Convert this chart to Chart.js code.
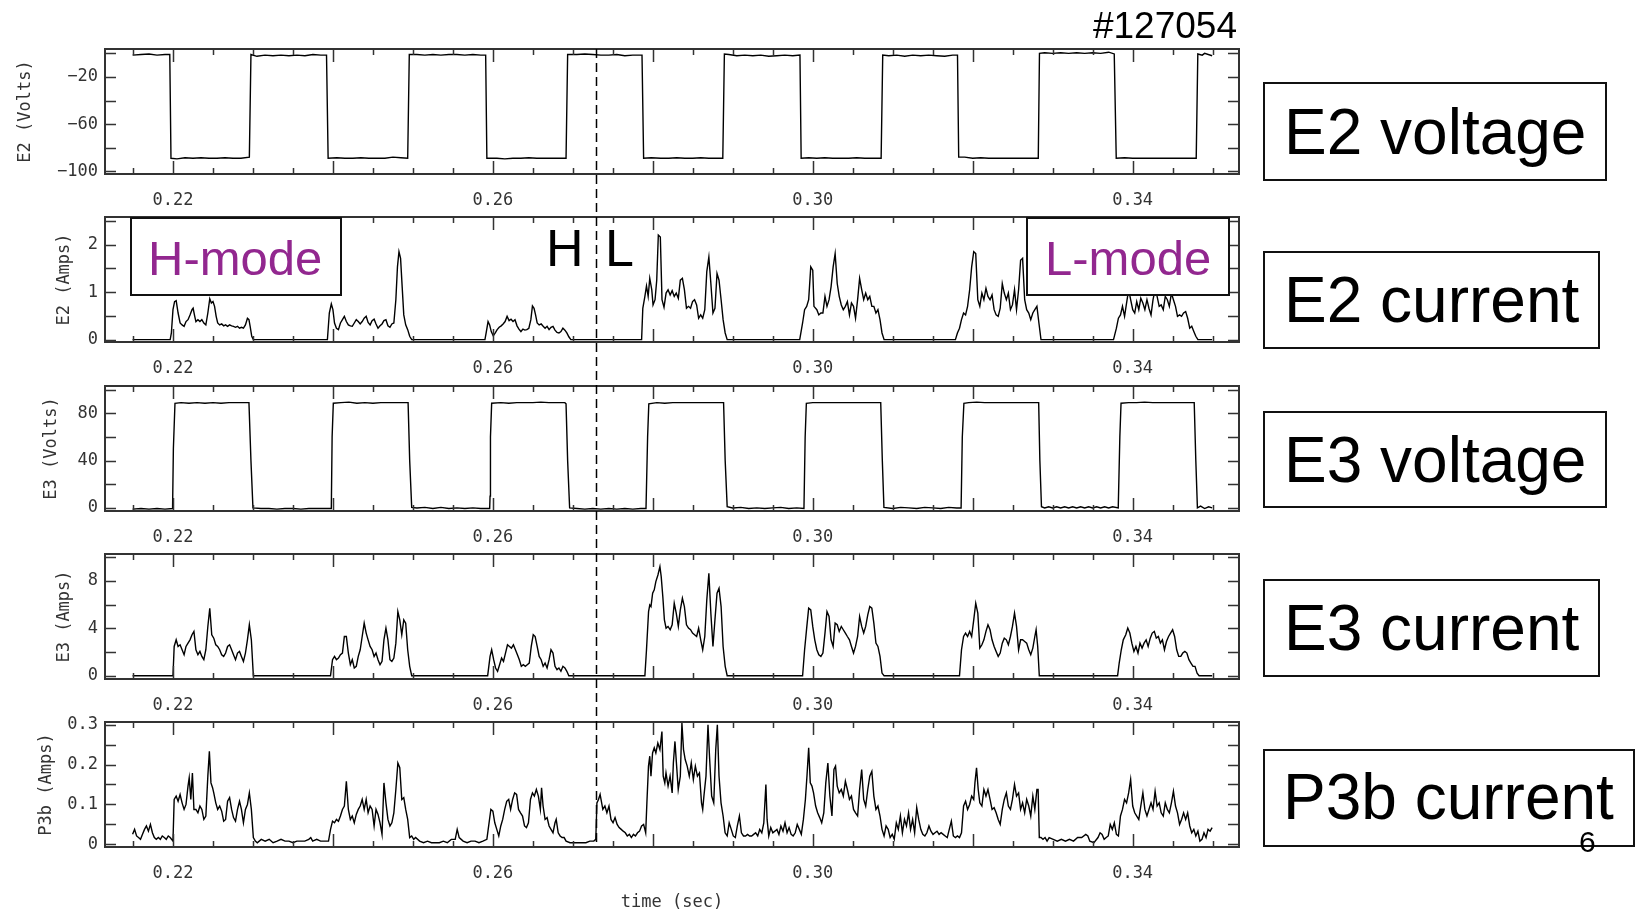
<!DOCTYPE html>
<html><head><meta charset="utf-8">
<script src="https://cdn.jsdelivr.net/npm/chart.js@4.4.0/dist/chart.umd.min.js"></script>
<style>
html,body{margin:0;padding:0;background:#fff;}
body{width:1637px;height:914px;position:relative;overflow:hidden;font-family:"Liberation Sans",Arial,sans-serif;}
canvas.panel{position:absolute;left:0;z-index:1;}
#overlay{position:absolute;left:0;top:0;z-index:2;pointer-events:none;}
.box{position:absolute;box-sizing:border-box;border:2px solid #111;background:#fff;z-index:3;}
.txt{position:absolute;white-space:nowrap;z-index:4;color:#000;}
</style></head>
<body>
<canvas id="c1" class="panel"></canvas>
<canvas id="c2" class="panel"></canvas>
<canvas id="c3" class="panel"></canvas>
<canvas id="c4" class="panel"></canvas>
<canvas id="c5" class="panel"></canvas>
<canvas id="overlay" width="1637" height="914"></canvas>

<div class="txt" style="right:400px;top:7px;font-size:37px;line-height:37px;">#127054</div>

<div class="box" style="left:130px;top:217px;width:212px;height:79px;"></div>
<div class="txt" style="left:148px;top:234px;font-size:49px;line-height:49px;color:#92278f;">H-mode</div>
<div class="box" style="left:1026px;top:217px;width:204px;height:79px;"></div>
<div class="txt" style="left:1045px;top:234px;font-size:49px;line-height:49px;color:#92278f;">L-mode</div>
<div class="txt" style="left:546px;top:222px;font-size:52px;line-height:52px;">H</div>
<div class="txt" style="left:605px;top:222px;font-size:52px;line-height:52px;">L</div>

<div class="box" style="left:1263px;top:82px;width:344px;height:99px;"></div>
<div class="txt" style="left:1284px;top:100px;font-size:64px;line-height:64px;">E2 voltage</div>
<div class="box" style="left:1263px;top:251px;width:337px;height:98px;"></div>
<div class="txt" style="left:1284px;top:268px;font-size:64px;line-height:64px;">E2 current</div>
<div class="box" style="left:1263px;top:411px;width:344px;height:97px;"></div>
<div class="txt" style="left:1284px;top:428px;font-size:64px;line-height:64px;">E3 voltage</div>
<div class="box" style="left:1263px;top:579px;width:337px;height:98px;"></div>
<div class="txt" style="left:1284px;top:596px;font-size:64px;line-height:64px;">E3 current</div>
<div class="box" style="left:1263px;top:749px;width:372px;height:98px;"></div>
<div class="txt" style="left:1283px;top:765px;font-size:64px;line-height:64px;">P3b current</div>
<div class="txt" style="left:1579px;top:827px;font-size:30px;line-height:30px;">6</div>

<script>
// ---- axis ranges and ticks ----
const timeRange = [0.2115, 0.3533];
const hlTime = 0.2729;
const xTickMinor = [0.215,0.22,0.225,0.23,0.235,0.24,0.245,0.25,0.255,0.26,0.265,0.27,0.275,0.28,0.285,0.29,0.295,0.30,0.305,0.31,0.315,0.32,0.325,0.33,0.335,0.34,0.345,0.35];
const xTickMajor = [0.22,0.24,0.26,0.28,0.30,0.32,0.34];
const xTickLabels = [0.22,0.26,0.30,0.34];

const e2vRange = [-102.3, 3.7], e2vTicks = [0,-20,-40,-60,-80,-100], e2vLabels = [-20,-60,-100];
const e2iRange = [-0.05, 2.58], e2iTicks = [0,0.5,1,1.5,2,2.5], e2iLabels = [0,1,2];
const e3vRange = [-2.6, 103.1], e3vTicks = [0,20,40,60,80,100], e3vLabels = [0,40,80];
const e3iRange = [-0.28, 10.28], e3iTicks = [0,2,4,6,8,10], e3iLabels = [0,4,8];
const p3bRange = [-0.0067, 0.3067], p3bTicks = [0,0.05,0.1,0.15,0.2,0.25,0.3], p3bLabels = [0,0.1,0.2,0.3];

// ---- series: [time (sec), value] ----
const e2Voltage = [[0.21495,-1.5],[0.216,-1],[0.217,-0.5],[0.218,-1.5],[0.219,-1],[0.2196,-1],[0.21975,-89],[0.2205,-89.5],[0.2215,-88.5],[0.2225,-89],[0.2235,-88.5],[0.2245,-89],[0.2255,-89],[0.2265,-88.5],[0.2275,-89],[0.2285,-89],[0.22955,-88],[0.22975,-1],[0.2305,-2.5],[0.2315,-1.5],[0.2325,-2],[0.2335,-1.5],[0.2345,-2],[0.2355,-1.5],[0.2365,-2],[0.2375,-1],[0.2385,-1.5],[0.2392,-1.5],[0.2394,-89],[0.2405,-88.5],[0.2415,-89],[0.2425,-89],[0.2435,-88.5],[0.2445,-89],[0.2455,-89],[0.2465,-89],[0.2475,-88],[0.2485,-88.5],[0.24935,-89],[0.24955,-1],[0.2505,-1],[0.2515,-1.5],[0.2525,-1],[0.2535,-1.5],[0.2545,-1],[0.2555,-1],[0.2565,-1.5],[0.2575,-1],[0.2585,-1.5],[0.2591,-1.5],[0.25925,-89],[0.2605,-89],[0.2615,-89.5],[0.2625,-89],[0.2635,-89],[0.2645,-88.5],[0.2655,-89],[0.2665,-89],[0.2675,-89],[0.2685,-89],[0.26915,-89],[0.26935,-1],[0.2705,-1],[0.2715,-0.5],[0.2725,-1],[0.2735,-1.5],[0.2745,-1.5],[0.2755,-1],[0.2765,-2],[0.2775,-1.5],[0.27865,-1.5],[0.27885,-89],[0.2798,-88.5],[0.281,-89],[0.282,-89],[0.283,-88.5],[0.284,-89],[0.285,-89],[0.286,-88.5],[0.287,-89],[0.28875,-89],[0.28895,-0.5],[0.2895,-1],[0.2905,-2],[0.2915,-1.5],[0.2925,-2],[0.2935,-1.5],[0.2945,-2.5],[0.2955,-2],[0.2965,-1.5],[0.2975,-2],[0.2984,-1.5],[0.29855,-89],[0.2995,-88.5],[0.3005,-89],[0.3015,-88.5],[0.3025,-89],[0.3035,-89],[0.3045,-89],[0.3055,-88.5],[0.3065,-89],[0.30855,-89],[0.30875,-1.5],[0.3095,-2],[0.3105,-1.5],[0.3115,-2.5],[0.3125,-1.5],[0.3135,-2],[0.3145,-1.5],[0.3155,-2],[0.3165,-2.5],[0.3175,-1.5],[0.3181,-1.5],[0.31825,-88],[0.319,-88],[0.32,-89],[0.321,-88.5],[0.322,-89],[0.323,-89],[0.324,-89],[0.325,-89],[0.326,-89],[0.327,-89],[0.3282,-89],[0.32835,0],[0.329,0.5],[0.33,0],[0.331,0.5],[0.332,0],[0.333,0.5],[0.334,0],[0.335,0.5],[0.336,0],[0.337,1],[0.3377,-0.5],[0.33795,-89],[0.339,-88.5],[0.34,-89],[0.341,-89],[0.342,-89],[0.343,-89],[0.344,-89],[0.345,-89],[0.346,-89],[0.347,-89],[0.34795,-89],[0.34815,-0.5],[0.3487,-1.5],[0.349,0],[0.34994,-2]];

const e2Current = [[0.21495,0],[0.21965,0],[0.2198,0.14],[0.22,0.63],[0.2202,0.8],[0.2204,0.82],[0.22064,0.56],[0.22089,0.35],[0.22114,0.31],[0.22139,0.28],[0.22163,0.38],[0.22188,0.42],[0.22213,0.52],[0.22238,0.63],[0.22252,0.66],[0.22272,0.49],[0.22287,0.38],[0.22312,0.42],[0.22337,0.38],[0.22361,0.42],[0.22386,0.35],[0.22411,0.31],[0.22436,0.56],[0.2246,0.86],[0.2248,0.77],[0.225,0.8],[0.2252,0.7],[0.2254,0.49],[0.22559,0.35],[0.22584,0.31],[0.22609,0.33],[0.22634,0.29],[0.22658,0.31],[0.22683,0.28],[0.22708,0.31],[0.22733,0.29],[0.22757,0.28],[0.22782,0.26],[0.22807,0.28],[0.22832,0.24],[0.22856,0.26],[0.22881,0.24],[0.22906,0.31],[0.22931,0.45],[0.2295,0.42],[0.22965,0.28],[0.22985,0.07],[0.23005,0],
[0.23931,0],[0.23955,0.56],[0.2398,0.75],[0.24,0.63],[0.2402,0.35],[0.24044,0.24],[0.24069,0.21],[0.24094,0.35],[0.24119,0.42],[0.24143,0.49],[0.24168,0.38],[0.24193,0.31],[0.24218,0.29],[0.24242,0.28],[0.24267,0.35],[0.24292,0.42],[0.24317,0.38],[0.24341,0.33],[0.24366,0.38],[0.24391,0.45],[0.24416,0.49],[0.2444,0.36],[0.24465,0.31],[0.2449,0.4],[0.24515,0.43],[0.24539,0.33],[0.24564,0.24],[0.24589,0.29],[0.24614,0.33],[0.24638,0.4],[0.24663,0.42],[0.24688,0.29],[0.24713,0.26],[0.24737,0.33],[0.24762,0.35],[0.24787,0.84],[0.24807,1.53],[0.24826,1.85],[0.24846,1.71],[0.24866,1.11],[0.24886,0.52],[0.2491,0.31],[0.24935,0.21],[0.2496,0.07],[0.24985,0],
[0.25901,0],[0.25916,0.14],[0.2594,0.38],[0.2596,0.31],[0.2598,0.17],[0.26005,0.08],[0.2603,0.14],[0.26054,0.21],[0.26079,0.26],[0.26104,0.29],[0.26128,0.33],[0.26153,0.38],[0.26178,0.49],[0.26203,0.4],[0.26227,0.43],[0.26252,0.38],[0.26277,0.42],[0.26302,0.29],[0.26326,0.22],[0.26351,0.17],[0.26376,0.22],[0.264,0.2],[0.26425,0.21],[0.2645,0.24],[0.26475,0.42],[0.26495,0.71],[0.26515,0.66],[0.26534,0.52],[0.26554,0.35],[0.26579,0.31],[0.26604,0.33],[0.26629,0.28],[0.26653,0.24],[0.26678,0.28],[0.26703,0.21],[0.26727,0.26],[0.26752,0.28],[0.26777,0.2],[0.26802,0.15],[0.26826,0.14],[0.26851,0.17],[0.26876,0.24],[0.26901,0.2],[0.26925,0.14],[0.2695,0.06],[0.26975,0],
[0.2786,0],[0.27875,0.66],[0.27901,0.91],[0.27921,1.13],[0.27942,0.91],[0.27962,1.29],[0.27987,1.05],[0.28003,0.73],[0.28028,0.84],[0.28049,1.25],[0.28069,2.2],[0.28094,2.16],[0.28115,0.84],[0.2814,0.68],[0.28166,0.98],[0.28191,1.05],[0.28217,0.94],[0.28242,1.03],[0.28268,0.91],[0.28293,0.98],[0.28319,0.87],[0.28344,1.25],[0.2837,1.29],[0.28395,1.05],[0.28421,0.66],[0.28446,0.7],[0.28472,0.66],[0.28497,0.8],[0.28522,0.84],[0.28548,0.73],[0.28573,0.45],[0.28599,0.52],[0.28624,0.45],[0.2865,0.63],[0.28675,1.43],[0.28701,1.74],[0.28726,1.18],[0.28752,0.56],[0.28777,0.66],[0.28803,1.39],[0.28828,1.25],[0.28854,0.84],[0.28879,0.42],[0.28905,0.14],[0.2893,0],
[0.29837,0],[0.29873,0.35],[0.29898,0.63],[0.29924,0.7],[0.29949,0.84],[0.29975,1.53],[0.3,1.46],[0.30015,0.7],[0.30051,0.63],[0.30076,0.52],[0.30102,0.56],[0.30127,0.56],[0.30153,0.91],[0.30178,0.7],[0.30204,0.84],[0.30229,1.11],[0.30255,1.53],[0.3028,1.81],[0.30306,1.18],[0.30331,0.91],[0.30357,0.73],[0.30382,0.63],[0.30408,0.7],[0.30433,0.8],[0.30459,0.52],[0.30484,0.77],[0.3051,0.7],[0.30535,0.45],[0.30561,0.84],[0.30586,1.29],[0.30612,1.05],[0.30637,0.84],[0.30662,0.98],[0.30688,0.84],[0.30713,0.91],[0.30739,0.7],[0.30764,0.7],[0.3079,0.56],[0.30815,0.63],[0.30841,0.42],[0.30866,0.14],[0.30892,0],
[0.31784,0],[0.31809,0.14],[0.31835,0.24],[0.3186,0.42],[0.31886,0.56],[0.31911,0.52],[0.31936,0.7],[0.31962,1.05],[0.31987,1.53],[0.32013,1.85],[0.32038,1.81],[0.32064,0.84],[0.32089,0.7],[0.32115,0.98],[0.3214,0.84],[0.32166,1.08],[0.32191,0.91],[0.32217,0.84],[0.32242,0.94],[0.32268,0.63],[0.32293,0.52],[0.32319,0.49],[0.32344,0.66],[0.3237,1.18],[0.32395,0.98],[0.32421,0.84],[0.32446,0.98],[0.32472,0.63],[0.32497,0.73],[0.32523,1.05],[0.32548,0.63],[0.32574,1.05],[0.32599,1.67],[0.32624,1.71],[0.3265,0.84],[0.32675,0.63],[0.32701,0.56],[0.32726,0.42],[0.32752,0.56],[0.32777,0.63],[0.32803,0.7],[0.32828,0.35],[0.32854,0],
[0.33761,0],[0.33797,0.24],[0.33822,0.45],[0.33848,0.52],[0.33873,0.7],[0.33899,0.49],[0.33924,0.77],[0.3395,1.05],[0.33975,0.84],[0.34001,0.63],[0.34026,0.56],[0.34051,0.8],[0.34077,0.63],[0.34102,0.87],[0.34128,0.77],[0.34153,0.63],[0.34179,0.84],[0.34204,0.66],[0.3423,0.52],[0.34255,0.84],[0.34281,1.05],[0.34306,0.91],[0.34332,0.7],[0.34357,0.73],[0.34383,0.63],[0.34408,0.91],[0.34434,0.84],[0.34459,0.7],[0.34485,0.98],[0.3451,0.84],[0.34536,0.7],[0.34561,0.49],[0.34587,0.52],[0.34612,0.49],[0.34637,0.56],[0.34663,0.59],[0.34688,0.45],[0.34714,0.24],[0.34739,0.28],[0.34765,0.17],[0.3479,0.07],[0.34816,0],[0.34994,0]];

const e3Voltage = [[0.21495,-1],[0.216,-0.5],[0.217,-1],[0.218,-0.5],[0.219,-1],[0.21995,-0.5],[0.22005,50],[0.22025,88.5],[0.221,89],[0.222,88.5],[0.223,89],[0.224,88.5],[0.225,89],[0.226,88.5],[0.227,89],[0.228,89],[0.229,89],[0.2295,89],[0.22975,40],[0.23,0],[0.231,-0.5],[0.232,-0.5],[0.233,-1],[0.234,-0.5],[0.235,-0.5],[0.236,-1],[0.237,-0.5],[0.238,-0.5],[0.239,-0.5],[0.2398,-0.5],[0.2399,60],[0.24005,88.5],[0.241,89],[0.242,89.5],[0.243,88.5],[0.244,89],[0.245,88.5],[0.246,89],[0.247,89],[0.248,89],[0.249,89],[0.2494,89],[0.2496,40],[0.24985,0.5],[0.2505,0],[0.2515,0.5],[0.2525,-0.5],[0.2535,0.5],[0.2545,-0.5],[0.2555,0],[0.2565,-0.5],[0.2575,0],[0.2585,-0.5],[0.2596,-0.5],[0.25965,10],[0.2597,60],[0.25985,88.5],[0.261,89],[0.262,88.5],[0.263,89],[0.264,89],[0.265,89],[0.266,89.5],[0.267,89],[0.268,89],[0.269,89],[0.26915,88],[0.26935,40],[0.2696,0],[0.2705,-0.5],[0.2715,-1],[0.2725,-0.5],[0.2735,-1],[0.2745,-0.5],[0.2755,-1],[0.2765,-0.5],[0.2775,-1],[0.2785,-0.5],[0.27915,-0.5],[0.27935,60],[0.2795,88],[0.2805,89],[0.2815,88.5],[0.2825,89],[0.2835,89],[0.2845,89],[0.2855,89],[0.2865,89],[0.2875,89],[0.28885,89],[0.28905,40],[0.2893,1],[0.29,0],[0.291,0.5],[0.292,-0.5],[0.293,0],[0.294,-0.5],[0.295,0],[0.296,0.5],[0.297,-0.5],[0.298,0],[0.2989,-0.5],[0.29905,60],[0.2992,88.5],[0.3,89],[0.301,89],[0.302,89],[0.303,89],[0.304,89],[0.305,89],[0.306,89],[0.307,89],[0.3085,89],[0.3087,40],[0.3089,0.5],[0.31,-0.5],[0.311,0.5],[0.312,0],[0.313,-0.5],[0.314,0.5],[0.315,0],[0.316,-0.5],[0.317,0.5],[0.318,0],[0.31855,0],[0.3187,60],[0.3189,88.5],[0.3195,89],[0.3205,89.5],[0.3215,89],[0.3225,89],[0.3235,89],[0.3245,89],[0.3255,89],[0.3265,89],[0.3275,89],[0.32825,89],[0.3284,40],[0.3286,1],[0.329,0],[0.3295,1],[0.33,0],[0.3305,1],[0.331,0],[0.3315,1],[0.332,0],[0.3325,1],[0.333,0],[0.3335,1],[0.334,0],[0.3345,1],[0.335,0],[0.3355,1],[0.336,0],[0.3365,1],[0.337,0],[0.3375,1],[0.3382,0],[0.3384,60],[0.33855,88.5],[0.3395,89],[0.3405,89],[0.3415,89.5],[0.3425,89],[0.3435,89],[0.3445,89],[0.3455,89],[0.3465,89],[0.3477,89],[0.3479,40],[0.3481,0],[0.3485,1.5],[0.349,-0.5],[0.3495,1],[0.34994,0]];

const e3Current = [[0.21495,0],[0.22,0],[0.22015,2.47],[0.2204,3.03],[0.22064,2.47],[0.22089,2.61],[0.22114,2.19],[0.22139,1.77],[0.22163,2.47],[0.22188,2.75],[0.22213,3.03],[0.22238,3.46],[0.22262,3.74],[0.22287,2.19],[0.22312,1.77],[0.22337,2.05],[0.22361,1.63],[0.22386,1.35],[0.22411,2.19],[0.22436,4.16],[0.2246,5.7],[0.22485,3.46],[0.2251,3.17],[0.22535,2.61],[0.22559,2.47],[0.22584,2.19],[0.22609,1.77],[0.22634,1.63],[0.22658,1.91],[0.22683,2.47],[0.22708,2.61],[0.22733,2.19],[0.22757,1.77],[0.22782,1.35],[0.22807,1.91],[0.22832,2.05],[0.22856,1.63],[0.22881,1.21],[0.22906,1.91],[0.22931,3.03],[0.22955,4.3],[0.2298,3.03],[0.23005,0],
[0.2397,0],[0.23995,1.35],[0.2402,1.63],[0.24044,1.35],[0.24069,1.49],[0.24094,1.77],[0.24119,1.91],[0.24143,3.31],[0.24168,3.31],[0.24193,1.91],[0.24218,0.93],[0.24242,1.35],[0.24267,0.65],[0.24292,0.79],[0.24317,1.63],[0.24341,2.19],[0.24366,3.31],[0.24391,4.44],[0.24416,3.6],[0.2444,3.03],[0.24465,2.47],[0.2449,2.19],[0.24515,1.63],[0.24539,1.91],[0.24564,1.35],[0.24589,0.93],[0.24614,1.21],[0.24638,3.03],[0.24663,4.02],[0.24688,3.03],[0.24713,1.35],[0.24737,1.21],[0.24762,1.49],[0.24787,2.75],[0.24812,5.42],[0.24836,4.72],[0.24861,3.46],[0.24886,4.72],[0.2491,4.44],[0.24935,2.19],[0.2496,0.79],[0.24985,0],
[0.25935,0],[0.25965,1.63],[0.25985,2.19],[0.2601,1.35],[0.26034,0.65],[0.26059,0.37],[0.26084,0.93],[0.26109,1.49],[0.26133,1.21],[0.26158,1.91],[0.26183,2.61],[0.26208,2.47],[0.26232,2.33],[0.26257,2.61],[0.26282,2.19],[0.26307,1.77],[0.26331,1.35],[0.26356,0.79],[0.26381,0.93],[0.26406,0.79],[0.2643,0.93],[0.26455,1.07],[0.2648,2.47],[0.26505,3.46],[0.26529,3.31],[0.26554,2.47],[0.26579,1.63],[0.26604,1.35],[0.26629,0.79],[0.26653,1.07],[0.26678,0.65],[0.26703,1.35],[0.26727,2.19],[0.26752,1.91],[0.26777,0.79],[0.26802,0.51],[0.26826,0.65],[0.26851,0.37],[0.26876,0.79],[0.26901,0.65],[0.26925,0.37],[0.2695,0],
[0.27901,0],[0.27921,2.19],[0.27947,5.42],[0.27962,5.98],[0.27977,5.84],[0.27998,6.97],[0.28018,7.25],[0.28038,7.95],[0.28064,8.51],[0.28089,9.21],[0.28105,8.37],[0.28125,6.69],[0.28145,4.72],[0.28166,4.02],[0.28191,4.16],[0.28217,3.88],[0.28242,4.3],[0.28268,6.12],[0.28293,5.28],[0.28319,4.16],[0.28344,5.56],[0.2837,6.54],[0.28395,5.84],[0.28421,4.3],[0.28446,4.02],[0.28472,3.88],[0.28497,3.6],[0.28522,3.46],[0.28548,3.31],[0.28573,4.02],[0.28599,3.03],[0.28624,2.19],[0.2865,3.31],[0.28675,6.4],[0.28701,8.65],[0.28726,5.28],[0.28752,2.47],[0.28777,4.72],[0.28803,6.97],[0.28828,7.39],[0.28854,5.84],[0.28879,2.47],[0.28905,0.79],[0.2893,0],
[0.29873,0],[0.29898,2.19],[0.29924,4.02],[0.29949,5.7],[0.29975,5.56],[0.3,4.16],[0.30025,3.03],[0.30051,2.19],[0.30076,1.77],[0.30102,1.63],[0.30127,1.91],[0.30153,3.6],[0.30178,5.42],[0.30204,5],[0.30229,3.03],[0.30255,2.47],[0.3028,4.44],[0.30306,4.3],[0.30331,3.74],[0.30357,4.16],[0.30382,3.88],[0.30408,3.6],[0.30433,3.31],[0.30459,3.03],[0.30484,2.47],[0.3051,1.91],[0.30535,2.47],[0.30561,3.31],[0.30586,5],[0.30612,4.16],[0.30637,3.6],[0.30662,4.16],[0.30688,5.14],[0.30713,5.84],[0.30739,5.7],[0.30764,4.44],[0.3079,2.75],[0.30815,2.47],[0.30841,1.63],[0.30866,0.22],[0.30892,0],
[0.31835,0],[0.3186,2.19],[0.31886,3.31],[0.31911,3.6],[0.31936,3.31],[0.31962,3.74],[0.31987,3.31],[0.32013,4.72],[0.32038,6.12],[0.32064,5.28],[0.32089,2.33],[0.32115,2.61],[0.3214,3.03],[0.32166,3.74],[0.32191,4.3],[0.32217,3.88],[0.32242,3.03],[0.32268,2.47],[0.32293,2.05],[0.32319,1.63],[0.32344,1.91],[0.3237,2.75],[0.32395,3.17],[0.32421,3.03],[0.32446,2.61],[0.32472,3.31],[0.32497,4.16],[0.32523,5.28],[0.32548,4.16],[0.32574,2.19],[0.32599,3.03],[0.32624,3.03],[0.3265,2.89],[0.32675,2.75],[0.32701,2.19],[0.32726,1.77],[0.32752,2.33],[0.32777,3.31],[0.32793,3.88],[0.32813,2.47],[0.32833,0],
[0.33812,0],[0.33832,1.07],[0.33858,2.19],[0.33883,3.03],[0.33914,3.46],[0.33939,4.02],[0.33965,3.6],[0.3399,2.75],[0.34016,2.05],[0.34041,2.47],[0.34067,1.91],[0.34092,2.75],[0.34118,2.33],[0.34143,2.75],[0.34169,3.03],[0.34194,2.47],[0.3422,3.17],[0.34245,3.6],[0.34271,3.74],[0.34296,3.17],[0.34322,3.31],[0.34347,2.75],[0.34372,3.03],[0.34398,2.19],[0.34423,2.89],[0.34449,3.31],[0.34474,3.6],[0.345,3.88],[0.34525,3.31],[0.34551,2.19],[0.34576,1.63],[0.34602,1.63],[0.34627,1.91],[0.34653,2.05],[0.34678,1.91],[0.34704,1.35],[0.34729,1.07],[0.34755,0.79],[0.3478,0.79],[0.34806,0.22],[0.34831,0],[0.34994,0]];

const p3bCurrent = [[0.21495,0.025],[0.2152,0.0375],[0.21545,0.021],[0.21569,0.017],[0.21594,0.0125],[0.21619,0.025],[0.21644,0.0375],[0.21668,0.046],[0.21693,0.033],[0.21718,0.05],[0.21743,0.029],[0.21767,0.017],[0.21792,0.0125],[0.21817,0.017],[0.21842,0.0125],[0.21866,0.021],[0.21891,0.017],[0.21916,0.0125],[0.21941,0.021],[0.21965,0.017],[0.22,0.008],[0.22015,0.1125],[0.2204,0.121],[0.22064,0.108],[0.22089,0.125],[0.22114,0.104],[0.22139,0.0875],[0.22163,0.1],[0.22188,0.146],[0.22203,0.167],[0.22223,0.1125],[0.22243,0.179],[0.22262,0.0875],[0.22287,0.0875],[0.22312,0.079],[0.22337,0.096],[0.22361,0.0875],[0.22386,0.0625],[0.22411,0.071],[0.22436,0.171],[0.22455,0.233],[0.22475,0.154],[0.22495,0.142],[0.2251,0.129],[0.22535,0.104],[0.22559,0.0875],[0.22584,0.096],[0.22609,0.083],[0.22634,0.058],[0.22658,0.0625],[0.22683,0.108],[0.22708,0.117],[0.22733,0.0875],[0.22757,0.067],[0.22782,0.058],[0.22807,0.0875],[0.22832,0.108],[0.22856,0.0875],[0.22881,0.054],[0.22906,0.0875],[0.22931,0.1],[0.22955,0.129],[0.2298,0.0875],[0.23005,0.017],[0.2303,0.008],[0.23054,0.004],[0.23104,0.0125],[0.23153,0.008],[0.23203,0.0125],[0.23252,0.004],[0.23302,0.008],[0.23351,0.0125],[0.23401,0.008],[0.2345,0.008],[0.235,0.004],[0.23549,0.008],[0.23599,0.008],[0.23648,0.008],[0.23698,0.0125],[0.23723,0.017],[0.23747,0.008],[0.23797,0.0125],[0.23846,0.008],[0.23896,0.008],[0.23945,0.008],
[0.2397,0.0375],[0.23995,0.058],[0.2402,0.054],[0.24044,0.0625],[0.24069,0.058],[0.24094,0.071],[0.24119,0.0875],[0.24143,0.096],[0.24168,0.158],[0.24193,0.0875],[0.24218,0.0625],[0.24242,0.071],[0.24267,0.054],[0.24292,0.075],[0.24317,0.0875],[0.24341,0.096],[0.24366,0.1125],[0.24391,0.0875],[0.24416,0.1125],[0.2444,0.079],[0.24465,0.096],[0.2449,0.0875],[0.24515,0.046],[0.24539,0.0875],[0.24564,0.075],[0.24589,0.054],[0.24614,0.025],[0.24638,0.154],[0.24663,0.104],[0.24688,0.0625],[0.24713,0.046],[0.24737,0.054],[0.24762,0.079],[0.24787,0.1375],[0.24812,0.204],[0.24836,0.192],[0.24861,0.1125],[0.24886,0.117],[0.2491,0.0875],[0.24935,0.0625],[0.2496,0.017],[0.24985,0.021],[0.2501,0.0125],[0.25034,0.017],[0.25084,0.008],[0.25133,0.004],[0.25183,0.008],[0.25232,0.004],[0.25282,0.004],[0.25331,0.004],[0.25381,0.008],[0.2543,0.004],[0.2548,0.0125],[0.25529,0.0125],[0.25554,0.0375],[0.25579,0.017],[0.25628,0.008],[0.25678,0.004],[0.25727,0.008],[0.25777,0.008],[0.25826,0.004],[0.25876,0.008],[0.25925,0.0125],
[0.25975,0.0875],[0.26,0.083],[0.26024,0.054],[0.26049,0.0375],[0.26074,0.021],[0.26099,0.046],[0.26123,0.0625],[0.26148,0.0875],[0.26173,0.108],[0.26198,0.1125],[0.26222,0.0875],[0.26247,0.1125],[0.26272,0.129],[0.26297,0.125],[0.26321,0.0875],[0.26346,0.079],[0.26371,0.071],[0.26396,0.046],[0.2642,0.042],[0.26445,0.054],[0.2647,0.1125],[0.26495,0.129],[0.26519,0.121],[0.26544,0.1375],[0.26569,0.121],[0.26594,0.0875],[0.26609,0.142],[0.26628,0.096],[0.26653,0.0625],[0.26678,0.067],[0.26703,0.046],[0.26727,0.0375],[0.26752,0.029],[0.26777,0.054],[0.26792,0.0625],[0.26817,0.029],[0.26841,0.021],[0.26866,0.017],[0.26891,0.017],[0.26916,0.008],[0.26965,0.004],[0.27015,0.004],[0.27064,0.004],[0.27114,0.004],[0.27163,0.004],[0.27213,0.008],[0.27262,0.008],[0.27287,0.0125],
[0.27301,0.104],[0.27321,0.1125],[0.27341,0.125],[0.27375,0.0875],[0.27401,0.096],[0.27426,0.079],[0.27452,0.096],[0.27477,0.0625],[0.27503,0.054],[0.27528,0.067],[0.27554,0.05],[0.27579,0.042],[0.27605,0.0375],[0.2763,0.033],[0.27656,0.029],[0.27681,0.021],[0.27707,0.025],[0.27732,0.017],[0.27758,0.025],[0.27783,0.021],[0.27809,0.029],[0.27834,0.033],[0.2786,0.046],[0.27885,0.05],[0.27911,0.029],
[0.27926,0.104],[0.27946,0.196],[0.27962,0.221],[0.27977,0.171],[0.27997,0.229],[0.28018,0.242],[0.28038,0.229],[0.28063,0.254],[0.28089,0.2375],[0.28114,0.283],[0.2813,0.171],[0.2815,0.154],[0.28165,0.179],[0.28191,0.146],[0.28216,0.171],[0.28242,0.129],[0.28257,0.204],[0.28277,0.258],[0.28298,0.196],[0.28318,0.1375],[0.28344,0.171],[0.28364,0.304],[0.28384,0.2375],[0.28405,0.2125],[0.2843,0.196],[0.28456,0.171],[0.28481,0.204],[0.28507,0.1625],[0.28532,0.196],[0.28558,0.171],[0.28583,0.179],[0.28609,0.104],[0.28624,0.0875],[0.28639,0.121],[0.28665,0.171],[0.2869,0.3],[0.28711,0.2125],[0.28736,0.121],[0.28762,0.104],[0.28787,0.2375],[0.28807,0.3],[0.28828,0.171],[0.28853,0.104],[0.28879,0.071],[0.28904,0.029],[0.2893,0.021],
[0.28955,0.054],[0.28981,0.0375],[0.29006,0.021],[0.29032,0.017],[0.29057,0.046],[0.29083,0.071],[0.29108,0.029],[0.29134,0.021],[0.29159,0.021],[0.29185,0.025],[0.2921,0.021],[0.29236,0.021],[0.29261,0.025],[0.29286,0.029],[0.29312,0.021],[0.29337,0.0375],[0.29363,0.029],[0.29388,0.054],[0.29414,0.15],[0.29429,0.0625],[0.2945,0.021],[0.29475,0.042],[0.29501,0.029],[0.29526,0.033],[0.29552,0.0375],[0.29577,0.025],[0.29602,0.046],[0.29628,0.033],[0.29653,0.054],[0.29679,0.029],[0.29704,0.042],[0.2973,0.025],[0.29755,0.021],[0.29781,0.029],[0.29806,0.05],[0.29832,0.0375],[0.29857,0.025],[0.29883,0.0625],
[0.29908,0.1125],[0.29929,0.175],[0.29949,0.242],[0.29969,0.154],[0.2999,0.146],[0.3001,0.129],[0.30036,0.096],[0.30061,0.079],[0.30087,0.067],[0.30112,0.054],[0.30138,0.079],[0.30163,0.154],[0.30189,0.204],[0.30214,0.121],[0.3024,0.071],[0.30265,0.1875],[0.30285,0.196],[0.30306,0.146],[0.30331,0.129],[0.30357,0.1375],[0.30382,0.121],[0.30408,0.158],[0.30433,0.1375],[0.30459,0.1125],[0.30484,0.121],[0.3051,0.0875],[0.30535,0.079],[0.30561,0.071],[0.30586,0.1375],[0.30612,0.1875],[0.30637,0.1125],[0.30662,0.096],[0.30688,0.1375],[0.30713,0.171],[0.30739,0.183],[0.30764,0.121],[0.3079,0.0875],[0.30815,0.096],[0.30841,0.071],[0.30866,0.0375],[0.30892,0.021],
[0.30917,0.046],[0.30943,0.0375],[0.30968,0.017],[0.30994,0.025],[0.31019,0.0125],[0.31045,0.054],[0.3107,0.0375],[0.31096,0.071],[0.31121,0.029],[0.31147,0.0625],[0.31172,0.046],[0.31198,0.079],[0.31223,0.0375],[0.31249,0.0625],[0.31274,0.029],[0.313,0.092],[0.31325,0.0625],[0.31351,0.0375],[0.31376,0.025],[0.31402,0.021],[0.31427,0.029],[0.31453,0.046],[0.31478,0.033],[0.31504,0.025],[0.31529,0.029],[0.31554,0.033],[0.3158,0.025],[0.31605,0.029],[0.31631,0.025],[0.31656,0.021],[0.31682,0.017],[0.31707,0.0375],[0.31733,0.058],[0.31758,0.021],[0.31784,0.017],[0.31809,0.021],[0.31835,0.017],[0.3186,0.029],
[0.31886,0.096],[0.31911,0.108],[0.31936,0.0875],[0.31962,0.1],[0.31987,0.121],[0.32013,0.1125],[0.32028,0.154],[0.32048,0.192],[0.32069,0.1375],[0.32089,0.104],[0.32115,0.096],[0.3214,0.1375],[0.32166,0.121],[0.32191,0.1375],[0.32217,0.1125],[0.32242,0.0875],[0.32268,0.092],[0.32293,0.079],[0.32319,0.0625],[0.32344,0.05],[0.3237,0.0875],[0.32395,0.1125],[0.32421,0.129],[0.32446,0.096],[0.32472,0.0875],[0.32497,0.1125],[0.32523,0.15],[0.32548,0.121],[0.32574,0.129],[0.32599,0.0875],[0.32624,0.104],[0.3265,0.079],[0.32675,0.1125],[0.32701,0.096],[0.32726,0.071],[0.32752,0.121],[0.32777,0.0875],[0.32803,0.1375],[0.32818,0.1375],[0.32833,0.017],
[0.32854,0.017],[0.32879,0.0125],[0.32905,0.017],[0.3293,0.008],[0.32956,0.017],[0.33007,0.0125],[0.33058,0.008],[0.33109,0.0125],[0.3316,0.008],[0.3321,0.0125],[0.33261,0.008],[0.33312,0.017],[0.33363,0.017],[0.33414,0.025],[0.3344,0.021],[0.33465,0.008],[0.33516,0.004],[0.33567,0.017],[0.33593,0.029],[0.33618,0.025],[0.33644,0.0125],[0.33669,0.017],[0.33695,0.021],[0.3372,0.05],[0.33746,0.0375],[0.33771,0.054],[0.33797,0.025],[0.33822,0.021],
[0.33848,0.071],[0.33873,0.0875],[0.33899,0.1125],[0.33924,0.104],[0.3395,0.129],[0.33975,0.1625],[0.34001,0.096],[0.34026,0.079],[0.34051,0.071],[0.34077,0.0625],[0.34102,0.096],[0.34128,0.129],[0.34153,0.0875],[0.34179,0.071],[0.34204,0.0875],[0.3423,0.104],[0.34255,0.0875],[0.34281,0.133],[0.34306,0.096],[0.34332,0.104],[0.34357,0.079],[0.34383,0.071],[0.34408,0.104],[0.34434,0.0875],[0.34459,0.079],[0.34485,0.104],[0.3451,0.133],[0.34536,0.096],[0.34561,0.079],[0.34587,0.05],[0.34612,0.0625],[0.34637,0.079],[0.34663,0.0625],[0.34688,0.079],[0.34714,0.046],[0.34739,0.029],[0.34765,0.0375],[0.3479,0.021],[0.34816,0.033],[0.34841,0.008],[0.34867,0.0125],[0.34892,0.029],[0.34918,0.017],[0.34943,0.0375],[0.34969,0.033],[0.34994,0.042]];

// ---- styles ----
const AXIS_FONT = {family: "'DejaVu Sans Mono', monospace", size: 17};
const AXIS_COLOR = '#333';
const PANEL_H = 125, PAD_TOP = 24, PAD_RIGHT = 11, CANVAS_W = 1250, Y_AXIS_W = 105;

const signedFmt = v => (v < 0 ? '\u2212' + Math.abs(v) : String(v));

const panels = [
  {id:'c1', top:49, title:'E2 (Volts)', titleX:26, range:e2vRange, ticks:e2vTicks, labels:e2vLabels, data:e2Voltage, xTitle:null, bottomSpace:45},
  {id:'c2', top:217, title:'E2 (Amps)', titleX:65, range:e2iRange, ticks:e2iTicks, labels:e2iLabels, data:e2Current, xTitle:null, bottomSpace:45},
  {id:'c3', top:386, title:'E3 (Volts)', titleX:52, range:e3vRange, ticks:e3vTicks, labels:e3vLabels, data:e3Voltage, xTitle:null, bottomSpace:45},
  {id:'c4', top:554, title:'E3 (Amps)', titleX:65, range:e3iRange, ticks:e3iTicks, labels:e3iLabels, data:e3Current, xTitle:null, bottomSpace:45},
  {id:'c5', top:722, title:'P3b (Amps)', titleX:47, range:p3bRange, ticks:p3bTicks, labels:p3bLabels, data:p3bCurrent, xTitle:'time (sec)', bottomSpace:67}
];

const idlFrame = {
  id: 'idlFrame',
  afterDatasetsDraw(chart, args, opts) {
    const {ctx, chartArea: a, scales: {x, y}} = chart;
    ctx.save();
    ctx.strokeStyle = '#333';
    ctx.lineWidth = 1.5;
    ctx.beginPath();
    xTickMinor.forEach(v => {
      const px = Math.round(x.getPixelForValue(v)) + 0.5;
      const L = xTickMajor.includes(v) ? 13 : 6;
      ctx.moveTo(px, a.bottom); ctx.lineTo(px, a.bottom - L);
      ctx.moveTo(px, a.top); ctx.lineTo(px, a.top + L);
    });
    opts.yTicks.forEach(v => {
      const py = Math.round(y.getPixelForValue(v)) + 0.5;
      ctx.moveTo(a.left, py); ctx.lineTo(a.left + 11, py);
      ctx.moveTo(a.right, py); ctx.lineTo(a.right - 11, py);
    });
    ctx.stroke();
    ctx.lineWidth = 2;
    ctx.strokeRect(a.left, a.top, a.right - a.left, a.bottom - a.top);
    ctx.restore();
  }
};

const charts = panels.map(p => {
  const cv = document.getElementById(p.id);
  const h = PAD_TOP + PANEL_H + p.bottomSpace;
  cv.width = CANVAS_W; cv.height = h;
  cv.style.top = (p.top - PAD_TOP) + 'px';
  const lh = AXIS_FONT.size * 1.2;
  return new Chart(cv, {
    type: 'line',
    data: {datasets: [{data: p.data, borderColor: '#000', borderWidth: 1.4, pointRadius: 0, tension: 0, fill: false}]},
    plugins: [idlFrame],
    options: {
      responsive: false, animation: false, devicePixelRatio: 1, events: [],
      layout: {padding: {left: 0, right: PAD_RIGHT, top: PAD_TOP, bottom: 0}},
      plugins: {legend: {display: false}, tooltip: {enabled: false}, idlFrame: {yTicks: p.ticks}},
      scales: {
        x: {
          type: 'linear', min: timeRange[0], max: timeRange[1],
          afterFit(s) { s.height = p.bottomSpace; },
          afterBuildTicks(s) { s.ticks = xTickLabels.map(v => ({value: v})); },
          ticks: {font: AXIS_FONT, color: AXIS_COLOR, padding: 16, maxRotation: 0, minRotation: 0, autoSkip: false,
                  callback: v => v.toFixed(2)},
          grid: {display: false, drawTicks: false}, border: {display: false},
          title: p.xTitle ? {display: true, text: p.xTitle, font: AXIS_FONT, color: AXIS_COLOR, padding: {top: 0, bottom: 1}} : {display: false}
        },
        y: {
          type: 'linear', min: p.range[0], max: p.range[1],
          afterFit(s) { s.width = Y_AXIS_W; },
          afterBuildTicks(s) { s.ticks = p.labels.map(v => ({value: v})); },
          ticks: {font: AXIS_FONT, color: AXIS_COLOR, padding: 7, callback: signedFmt},
          grid: {display: false, drawTicks: false}, border: {display: false},
          title: {display: true, text: p.title, font: AXIS_FONT, color: AXIS_COLOR,
                  padding: {top: p.titleX - lh / 2, bottom: 0}}
        }
      }
    }
  });
});

// dashed H→L transition marker across all panels
(function drawMarker() {
  const ov = document.getElementById('overlay');
  const ctx = ov.getContext('2d');
  const first = charts[0], last = charts[charts.length - 1];
  const x = Math.round(first.scales.x.getPixelForValue(hlTime)) + 0.5;
  const y0 = first.canvas.offsetTop + first.chartArea.top;
  const y1 = last.canvas.offsetTop + last.chartArea.bottom;
  ctx.strokeStyle = '#000';
  ctx.lineWidth = 1.5;
  ctx.setLineDash([9, 5]);
  ctx.beginPath();
  ctx.moveTo(x, y0); ctx.lineTo(x, y1);
  ctx.stroke();
})();
</script>
</body></html>
